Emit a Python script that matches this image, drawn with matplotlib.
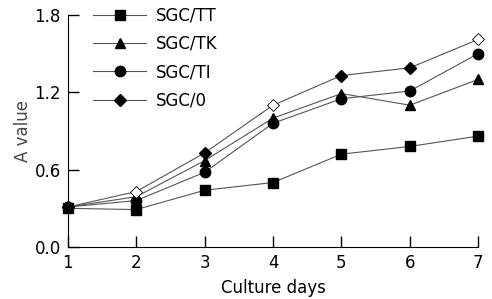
import matplotlib
matplotlib.use('Agg')
import matplotlib.pyplot as plt
from matplotlib.lines import Line2D

# data
days = [1, 2, 3, 4, 5, 6, 7]
sgc_tt = [0.30, 0.29, 0.44, 0.50, 0.72, 0.78, 0.86]
sgc_tk = [0.31, 0.39, 0.67, 1.00, 1.19, 1.10, 1.30]
sgc_ti = [0.31, 0.36, 0.58, 0.96, 1.15, 1.21, 1.50]
sgc_0 = [0.31, 0.43, 0.73, 1.10, 1.33, 1.39, 1.61]
labels = ['SGC/TT', 'SGC/TK', 'SGC/TI', 'SGC/0']
yticks = [0.0, 0.6, 1.2, 1.8]

plt.rcParams['font.family'] = 'DejaVu Sans'
fig = plt.figure(figsize=(4.92, 2.99), dpi=100)
ax = fig.add_axes([0.138, 0.174, 0.834, 0.776])

lc = '#555555'
lw = 0.8
ax.plot(days, sgc_tt, color=lc, lw=lw, marker='s', ms=7.5, mfc='black', mec='black')
ax.plot(days, sgc_tk, color=lc, lw=lw, marker='^', ms=7.5, mfc='black', mec='black')
ax.plot(days, sgc_ti, color=lc, lw=lw, marker='o', ms=7.5, mfc='black', mec='black')
ax.plot(days, sgc_0, color=lc, lw=lw, marker='D', ms=6.5, mfc='black', mec='black',
        markevery=[0, 2, 4, 5])
ax.plot(days, sgc_0, ls='none', marker='D', ms=6.5, mfc='white', mec='black', mew=0.6,
        markevery=[1, 3, 6])

handles = [Line2D([], [], color=lc, lw=lw, marker=m, ms=s, mfc='black', mec='black')
           for m, s in zip(['s', '^', 'o', 'D'], [7.5, 7.5, 7.5, 6.5])]
ax.legend(handles, labels, loc='upper left', bbox_to_anchor=(0.045, 1.065), frameon=False,
          fontsize=12, handlelength=3.2, handletextpad=0.55, labelspacing=0.62,
          borderaxespad=0)

ax.set_xlim(1, 7)
ax.set_ylim(0, 1.8)
ax.set_xticks(days)
ax.set_yticks(yticks)
ax.set_yticklabels([f'{v:.1f}' for v in yticks])
ax.spines['top'].set_visible(False)
ax.spines['right'].set_visible(False)
ax.tick_params(direction='in', length=8, width=1, labelsize=12, pad=5)
ax.set_xlabel('Culture days', fontsize=12, labelpad=5)
ax.set_ylabel('A value', fontsize=12, color='#444444', labelpad=2)
for l in ax.lines:
    l.set_clip_on(False)

fig.savefig('out.png', dpi=100)
